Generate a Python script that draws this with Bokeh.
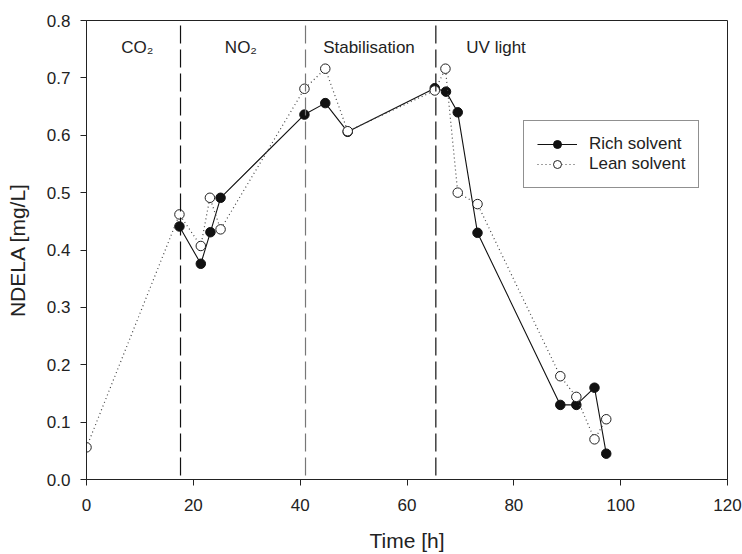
from bokeh.plotting import figure
from bokeh.models import Range1d, FixedTicker, PrintfTickFormatter, Span, Legend, LegendItem
from bokeh.core.properties import value
from bokeh.embed import file_html
from bokeh.resources import INLINE

# Data
time_rich = [17.4, 21.4, 23.2, 25.1, 40.8, 44.7, 48.9, 65.2, 67.3, 69.5, 73.2, 88.7, 91.7, 95.1, 97.3]
rich = [0.441, 0.376, 0.431, 0.491, 0.636, 0.656, 0.606, 0.682, 0.676, 0.640, 0.430, 0.130, 0.130, 0.160, 0.045]

time_lean = [0.0, 17.4, 21.4, 23.1, 25.1, 40.8, 44.7, 48.9, 65.2, 67.2, 69.5, 73.2, 88.7, 91.7, 95.1, 97.3]
lean = [0.056, 0.462, 0.407, 0.491, 0.436, 0.681, 0.716, 0.607, 0.678, 0.716, 0.500, 0.480, 0.180, 0.144, 0.070, 0.105]

phase_bounds = [17.6, 41.0, 65.4]
phase_colors = ["#111111", "#777777", "#111111"]
phase_names = ["CO₂", "NO₂", "Stabilisation", "UV light"]
phase_label_x = [6.5, 25.9, 44.3, 71.1]
phase_label_y = [0.753, 0.753, 0.753, 0.753]

x_ticks = [0, 20, 40, 60, 80, 100, 120]
y_ticks = [0.0, 0.1, 0.2, 0.3, 0.4, 0.5, 0.6, 0.7, 0.8]

FONT = "Liberation Sans"

p = figure(width=742, height=554, output_backend="svg", toolbar_location=None,
           x_range=Range1d(0, 120), y_range=Range1d(0, 0.8),
           min_border_left=86, min_border_right=15, min_border_top=20, min_border_bottom=75)

p.xgrid.visible = False
p.ygrid.visible = False
p.outline_line_color = "#222222"
p.outline_line_width = 1
p.background_fill_color = "white"
p.border_fill_color = "white"

for ax in (p.xaxis[0], p.yaxis[0]):
    ax.axis_line_color = "#222222"
    ax.axis_line_width = 1
    ax.major_tick_line_color = "#222222"
    ax.major_tick_out = 6
    ax.major_tick_in = 0
    ax.minor_tick_line_color = None
    ax.major_label_text_font = FONT
    ax.major_label_text_font_size = "17px"
    ax.major_label_text_color = "#222222"
    ax.axis_label_text_font = FONT
    ax.axis_label_text_font_size = "21px"
    ax.axis_label_text_font_style = "normal"
    ax.axis_label_text_color = "#222222"

p.xaxis.ticker = FixedTicker(ticks=x_ticks)
p.yaxis.ticker = FixedTicker(ticks=y_ticks)
p.yaxis.formatter = PrintfTickFormatter(format="%.1f")
p.xaxis.axis_label = "Time [h]"
p.yaxis.axis_label = "NDELA [mg/L]"
p.xaxis.major_label_standoff = 13
p.yaxis.major_label_standoff = 10
p.xaxis.axis_label_standoff = 15
p.yaxis.axis_label_standoff = 15

for xb, c in zip(phase_bounds, phase_colors):
    p.add_layout(Span(location=xb, dimension="height", line_color=c, line_width=1.2,
                      line_dash="18 6", line_dash_offset=-5))

p.text(x=phase_label_x, y=phase_label_y, text=phase_names, text_font=value(FONT),
       text_font_size="17px", text_color="#222222", text_align="left", text_baseline="alphabetic")

r_line = p.line(time_rich, rich, line_color="#111111", line_width=1.1)
r_pts = p.scatter(time_rich, rich, size=9.5, marker="circle", fill_color="#111111", line_color="#111111")
l_line = p.line(time_lean, lean, line_color="#444444", line_width=1.2, line_dash="1 3")
l_pts = p.scatter(time_lean, lean, size=9.5, marker="circle", fill_color="white", line_color="#222222", line_width=1)

legend = Legend(items=[LegendItem(label="Rich solvent", renderers=[r_line, r_pts]),
                       LegendItem(label="Lean solvent", renderers=[l_line, l_pts])],
                location=(437, 291))
legend.label_text_font = FONT
legend.label_text_font_size = "17px"
legend.label_text_color = "#222222"
legend.border_line_color = "#222222"
legend.border_line_width = 1
legend.background_fill_alpha = 1
legend.padding = 13
legend.margin = 0
legend.spacing = 0
legend.glyph_width = 40
legend.glyph_height = 20
legend.label_height = 20
legend.label_standoff = 12
p.add_layout(legend, "center")

open("out.html", "w").write(file_html(p, INLINE))
